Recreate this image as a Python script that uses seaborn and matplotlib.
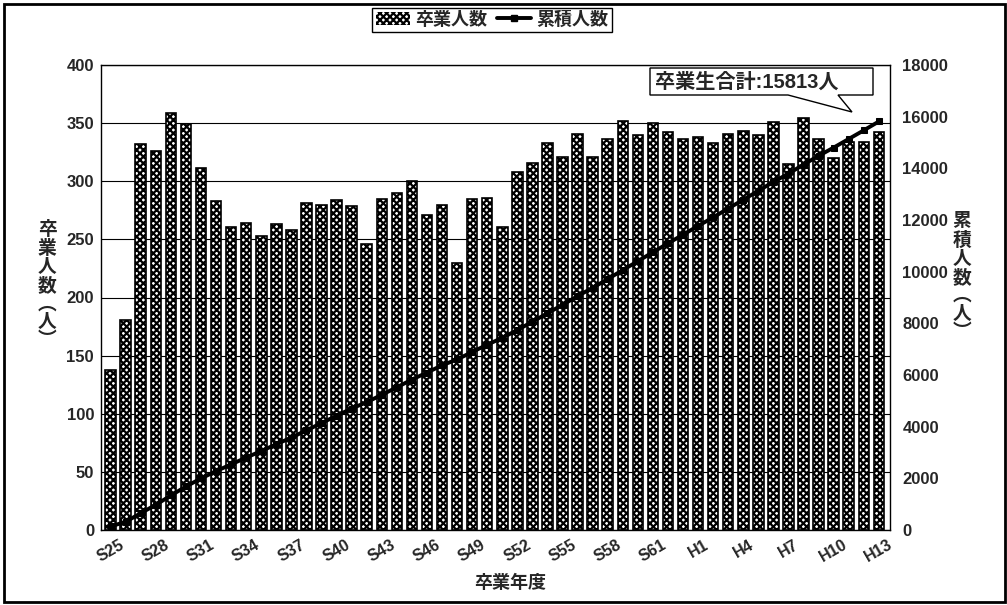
import numpy as np
import pandas as pd
import matplotlib
matplotlib.use("Agg")
import matplotlib.pyplot as plt
import seaborn as sns
from matplotlib.patches import Polygon, Rectangle, Patch
from matplotlib.lines import Line2D

# Graduation years (Showa 25 - Heisei 13)
years = [f"S{n}" for n in range(25, 64)] + [f"H{n}" for n in range(1, 14)]

# Graduates per year
graduates = [
    138, 181, 332, 326, 359, 349, 311, 283, 261, 264,
    253, 263, 258, 281, 280, 284, 279, 246, 285, 290,
    300, 271, 280, 230, 285, 286, 261, 308, 316, 333,
    321, 341, 321, 336, 352, 340, 350, 342, 336, 338,
    333, 341, 343, 340, 351, 315, 354, 336, 320, 334,
    334, 342,
]

cumulative = np.cumsum(graduates)
total = int(cumulative[-1])
tick_years = years[::3]

left_ticks = list(range(0, 401, 50))
right_ticks = list(range(0, 18001, 2000))

sns.set_style("white")
plt.rcParams["font.family"] = ["Liberation Sans", "Noto Sans CJK JP"]
plt.rcParams["font.weight"] = "bold"
plt.rcParams["hatch.linewidth"] = 1.6

W, H = 1007, 605
fig = plt.figure(figsize=(W / 100, H / 100), dpi=100)


def fx(px):
    return px / W


def fy(py):
    return 1 - py / H


ax = fig.add_axes([fx(101), fy(530), fx(890) - fx(101), fy(65) - fy(530)])

df = pd.DataFrame({"year": years, "graduates": graduates})
sns.barplot(
    data=df, x="year", y="graduates", order=years, color="white",
    saturation=1, edgecolor="black", linewidth=1.2, hatch="xxxxx",
    width=0.7, ax=ax, zorder=2,
)

ax.set_xlim(-0.64, len(years) - 1 + 0.74)
ax.set_ylim(0, 400)
ax.set_yticks(left_ticks)
ax.set_yticklabels([str(t) for t in left_ticks], fontsize=12, fontweight="bold")
ax.set_xticks(range(0, len(years), 3))
ax.set_xticklabels(tick_years, rotation=30, fontsize=11.5, fontweight="bold")
ax.tick_params(axis="x", length=0, pad=5)
ax.tick_params(axis="y", length=0, pad=5)
ax.set_xlabel("")
ax.set_ylabel("")
ax.yaxis.grid(True, color="black", linewidth=0.8)
ax.set_axisbelow(True)
for s in ax.spines.values():
    s.set_visible(True)
    s.set_color("black")
    s.set_linewidth(1)

# Cumulative total on the secondary axis
ax2 = ax.twinx()
sns.lineplot(
    x=np.arange(len(years)), y=cumulative, ax=ax2, color="black",
    linewidth=2.8, marker="s", markersize=4, markeredgecolor="black",
)
ax2.set_xlim(ax.get_xlim())
ax2.set_ylim(0, 18000)
ax2.set_yticks(right_ticks)
ax2.set_yticklabels([str(t) for t in right_ticks], fontsize=12, fontweight="bold")
ax2.tick_params(axis="y", length=0, pad=9)
ax2.grid(False)
ax2.set_ylabel("")
for s in ax2.spines.values():
    s.set_visible(False)

# Axis titles (vertical writing)
fig.text(fx(47), fy(285), "\n".join("卒業人数︵人︶"), ha="center", va="center",
         fontsize=13.5, fontweight="bold", linespacing=1.08)
fig.text(fx(962), fy(277), "\n".join("累積人数︵人︶"), ha="center", va="center",
         fontsize=13.5, fontweight="bold", linespacing=1.08)
fig.text(fx(510), fy(583), "卒業年度", ha="center", va="center",
         fontsize=13, fontweight="bold")

# Callout with the overall total
callout = [(650, 68), (873, 68), (873, 95), (838, 95), (852, 112),
           (788, 95), (650, 95)]
fig.patches.append(Polygon([(fx(x), fy(y)) for x, y in callout], closed=True,
                           facecolor="white", edgecolor="black", linewidth=1,
                           transform=fig.transFigure, zorder=5))
fig.text(fx(655), fy(82), f"卒業生合計:{total}人", ha="left", va="center",
         fontsize=14.5, fontweight="bold", zorder=6)

# Legend
handles = [
    Patch(facecolor="white", edgecolor="black", hatch="xxxxx", linewidth=0),
    Line2D([], [], color="black", linewidth=2.8, marker="s", markersize=4),
]
leg = fig.legend(handles, ["卒業人数", "累積人数"], loc="center",
                 bbox_to_anchor=(fx(492), fy(20)), ncol=2, frameon=True,
                 fancybox=False, edgecolor="black", framealpha=1,
                 prop={"size": 13, "weight": "bold"}, handlelength=1.9,
                 handletextpad=0.3, columnspacing=0.5, borderpad=0.2)
leg.get_frame().set_linewidth(1)

# Outer frame
fig.patches.append(Rectangle((fx(4), fy(602)), fx(1005) - fx(4), fy(4) - fy(602),
                             fill=False, edgecolor="black", linewidth=2,
                             transform=fig.transFigure))

fig.savefig("out.png", dpi=100)
